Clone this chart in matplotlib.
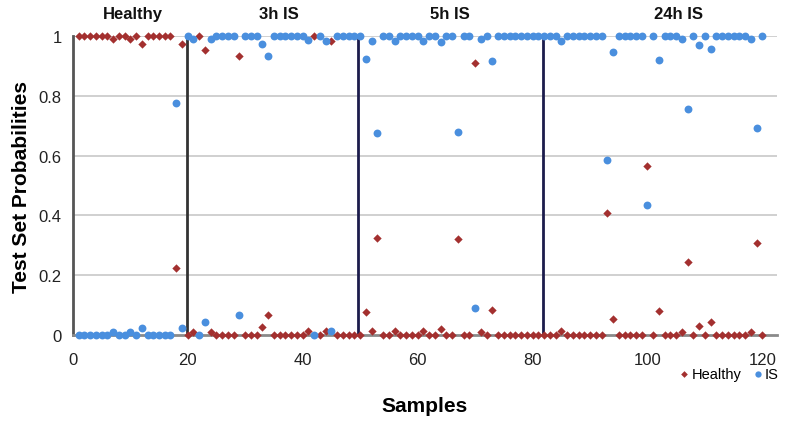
import numpy as np
import matplotlib
matplotlib.use("Agg")
import matplotlib.pyplot as plt

plt.rcParams['font.family'] = ['Liberation Sans', 'DejaVu Sans']

# test samples 1..120, grouped by condition
samples = np.arange(1, 121)
group_names = ["Healthy", "3h IS", "5h IS", "24h IS"]
group_label_x = [10.4, 35.9, 65.7, 105.4]
group_bounds = [19.8, 49.6, 81.9]

# predicted probability of the "Healthy" class
prob_healthy = [
    # Healthy (1-19)
    1.0, 1.0, 1.0, 1.0, 1.0, 1.0, 0.99, 1.0, 1.0, 0.99, 1.0, 0.975, 1.0, 1.0, 1.0, 1.0, 1.0, 0.225, 0.975,
    # 3h IS (20-49)
    0.0, 0.01, 1.0, 0.955, 0.01, 0.0, 0.0, 0.0, 0.0, 0.933, 0.0, 0.0, 0.0, 0.027, 0.067,
    0.0, 0.0, 0.0, 0.0, 0.0, 0.0, 0.013, 1.0, 0.0, 0.015, 0.985, 0.0, 0.0, 0.0, 0.0,
    # 5h IS (50-81)
    0.0, 0.077, 0.015, 0.325, 0.0, 0.0, 0.015, 0.0, 0.0, 0.0, 0.0, 0.015, 0.0, 0.0, 0.02, 0.0,
    0.0, 0.321, 0.0, 0.0, 0.91, 0.01, 0.0, 0.083, 0.0, 0.0, 0.0, 0.0, 0.0, 0.0, 0.0, 0.0,
    # 24h IS (82-120)
    0.0, 0.0, 0.0, 0.015, 0.0, 0.0, 0.0, 0.0, 0.0, 0.0, 0.0, 0.41, 0.053, 0.0, 0.0, 0.0, 0.0, 0.0, 0.565,
    0.0, 0.08, 0.0, 0.0, 0.0, 0.01, 0.245, 0.0, 0.03, 0.0, 0.043, 0.0, 0.0, 0.0, 0.0, 0.0, 0.0, 0.01, 0.307, 0.0,
]

# predicted probability of the "IS" class
prob_is = [
    # Healthy (1-19)
    0.0, 0.0, 0.0, 0.0, 0.0, 0.0, 0.01, 0.0, 0.0, 0.01, 0.0, 0.025, 0.0, 0.0, 0.0, 0.0, 0.0, 0.775, 0.025,
    # 3h IS (20-49)
    1.0, 0.99, 0.0, 0.045, 0.99, 1.0, 1.0, 1.0, 1.0, 0.067, 1.0, 1.0, 1.0, 0.973, 0.933,
    1.0, 1.0, 1.0, 1.0, 1.0, 1.0, 0.987, 0.0, 1.0, 0.985, 0.015, 1.0, 1.0, 1.0, 1.0,
    # 5h IS (50-81)
    1.0, 0.923, 0.985, 0.675, 1.0, 1.0, 0.985, 1.0, 1.0, 1.0, 1.0, 0.985, 1.0, 1.0, 0.98, 1.0,
    1.0, 0.679, 1.0, 1.0, 0.09, 0.99, 1.0, 0.917, 1.0, 1.0, 1.0, 1.0, 1.0, 1.0, 1.0, 1.0,
    # 24h IS (82-120)
    1.0, 1.0, 1.0, 0.985, 1.0, 1.0, 1.0, 1.0, 1.0, 1.0, 1.0, 0.586, 0.947, 1.0, 1.0, 1.0, 1.0, 1.0, 0.435,
    1.0, 0.92, 1.0, 1.0, 1.0, 0.99, 0.755, 1.0, 0.97, 1.0, 0.957, 1.0, 1.0, 1.0, 1.0, 1.0, 1.0, 0.99, 0.692, 1.0,
]

red = '#a3302f'
blue = '#4a8fde'

fig = plt.figure(figsize=(8, 4.27), dpi=100)
ax = fig.add_axes([0.091, 0.213, 0.880, 0.700])

ax.set_xlim(0, 122.5)
ax.set_ylim(0, 1)
ax.set_xticks(np.arange(0, 121, 20))
ax.set_yticks([0, 0.2, 0.4, 0.6, 0.8, 1.0])
ax.set_yticklabels(['0', '0.2', '0.4', '0.6', '0.8', '1'])
ax.tick_params(length=0, labelsize=12, colors='#222222', pad=8)
ax.tick_params(axis='x', pad=12)

for y in [0.2, 0.4, 0.6, 0.8, 1.0]:
    ax.axhline(y, color='#c8c8c8', lw=1.2, zorder=0)

for side in ['top', 'right']:
    ax.spines[side].set_visible(False)
ax.spines['left'].set_color('#555555')
ax.spines['left'].set_linewidth(2)
ax.spines['bottom'].set_color('#8a8a8a')
ax.spines['bottom'].set_linewidth(2)

ax.vlines(group_bounds, 0, 1, colors=['#333333', '#1c1c4c', '#1c1c4c'], lw=2, zorder=2)

ax.scatter(samples, prob_healthy, marker='D', s=18, color=red, label='Healthy',
           zorder=3, clip_on=False, linewidths=0)
ax.scatter(samples, prob_is, marker='o', s=32, color=blue, label='IS',
           zorder=4, clip_on=False, linewidths=0)

for name, gx in zip(group_names, group_label_x):
    ax.text(gx, 1.075, name, ha='center', va='center', fontsize=12,
            fontweight='bold', color='#111111', clip_on=False)

ax.set_ylabel('Test Set Probabilities', fontsize=15, fontweight='bold')
ax.yaxis.set_label_coords(-0.06, 0.5)
fig.text(0.531, 0.047, 'Samples', ha='center', va='center', fontsize=15, fontweight='bold')

fig.legend(loc='center', bbox_to_anchor=(0.91, 0.122), ncol=2, frameon=False,
           fontsize=10.5, handletextpad=0.0, columnspacing=0.6, markerscale=0.8,
           handlelength=1.0, borderpad=0.2)

fig.savefig('out.png', dpi=100)
